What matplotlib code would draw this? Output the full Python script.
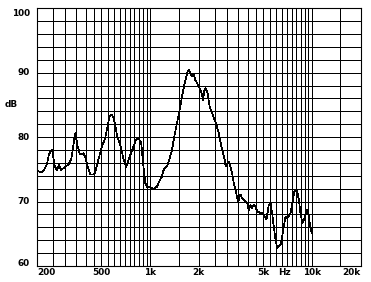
import numpy as np
import matplotlib
matplotlib.use("Agg")
import matplotlib.pyplot as plt

# frequency response
freq_hz = [200, 212, 221, 231, 237, 247, 251, 256, 265, 274, 282, 298, 312, 325, 334,
           344, 349, 357, 369, 387, 396, 412, 426, 446, 457, 479, 503, 527, 553, 561,
           580, 594, 608, 623, 653, 684, 711, 735, 771, 809, 828, 859, 881, 902, 933,
           955, 1002, 1050, 1102, 1127, 1183, 1211, 1271, 1301, 1365, 1410, 1466, 1521,
           1574, 1626, 1675, 1706, 1746, 1771, 1815, 1857, 1901, 1950, 2023, 2094, 2123,
           2163, 2204, 2265, 2333, 2415, 2530, 2653, 2717, 2786, 2878, 2918, 2959, 3061,
           3133, 3212, 3287, 3364, 3411, 3498, 3614, 3706, 3845, 3974, 4066, 4168, 4266,
           4365, 4477, 4582, 4808, 4966, 5105, 5236, 5408, 5546, 5675, 5808, 5957, 6095,
           6237, 6397, 6546, 6699, 6871, 7031, 7195, 7379, 7482, 7621, 7798, 7925, 8110,
           8299, 8492, 8711, 8914, 9122, 9355, 9485, 9662, 9795, 9954]
level_db = [74.8, 74.5, 74.9, 75.9, 77.3, 78.1, 77.3, 75.7, 74.9, 75.7, 74.9, 75.4, 75.7,
            76.5, 78.3, 80.6, 79.9, 78.5, 77.3, 77.5, 77.0, 75.4, 74.2, 74.2, 74.4, 76.5,
            78.5, 79.8, 82.4, 83.2, 83.5, 83.0, 81.9, 80.4, 78.8, 76.7, 75.4, 76.5, 77.8,
            79.3, 79.8, 79.6, 79.1, 76.2, 72.9, 72.3, 72.2, 72.0, 72.3, 72.9, 73.9, 74.9,
            75.5, 76.2, 78.0, 80.1, 82.2, 84.2, 86.3, 88.1, 89.4, 90.2, 90.4, 89.9, 89.4,
            89.7, 88.9, 88.4, 87.6, 86.6, 85.8, 87.3, 87.6, 86.8, 84.7, 83.7, 82.4, 80.7,
            79.3, 78.0, 76.7, 75.7, 75.5, 76.2, 75.4, 74.4, 72.9, 71.8, 71.1, 70.0, 71.1,
            70.5, 70.2, 69.8, 68.7, 69.5, 69.0, 69.5, 69.2, 68.5, 68.2, 68.2, 67.7, 67.2,
            69.5, 69.8, 68.2, 66.1, 64.1, 62.8, 63.0, 63.3, 64.6, 66.1, 67.7, 67.4, 67.7,
            68.2, 69.2, 70.3, 71.6, 71.8, 71.6, 70.3, 68.2, 66.7, 67.2, 68.0, 68.7, 68.2,
            66.9, 65.9, 65.1]

y_ticks = [60, 70, 80, 90, 100]
y_labels = ["60", "70", "80", "90", "100"]
x_ticks = [200, 500, 1000, 2000, 5000, 7000, 10000, 20000]
x_labels = ["200", "500", "1k", "2k", "5k", "Hz", "10k", "20k"]

fig = plt.figure(figsize=(3.71, 2.82), dpi=100)
ax = fig.add_axes([0.0997, 0.0567, 0.8725, 0.914])
ax.set_xscale("log")
ax.set_xlim(200, 20000)
ax.set_ylim(60, 100)

# log paper grid
grid_f = list(np.arange(250, 1000, 50)) + list(np.arange(1000, 10001, 500)) + [15000]
ax.vlines(grid_f, 60, 100, color="black", lw=0.5, antialiased=False)
ax.hlines(np.arange(62, 100, 2), 200, 20000, color="black", lw=0.5, antialiased=False)
for s in ax.spines.values():
    s.set_linewidth(0.8)

ax.plot(freq_hz, level_db, color="black", lw=0.5, antialiased=False)

ax.set_xticks([])
ax.set_yticks([])
ax.minorticks_off()

fnt = dict(fontsize=6.4, fontweight="bold", family="DejaVu Sans")
for v, lab in zip(y_ticks, y_labels):
    dy = 0
    if v == 100:
        dy = -5
    if v == 60:
        dy = 3
    ax.annotate(lab, xy=(0, v), xycoords=("axes fraction", "data"),
                xytext=(-7, dy), textcoords="offset pixels",
                ha="right", va="center", **fnt)
ax.annotate("dB", xy=(0, 85), xycoords=("axes fraction", "data"),
            xytext=(-32, 0), textcoords="offset pixels", ha="left", va="center", **fnt)

for f, lab in zip(x_ticks, x_labels):
    ha = "center"
    dx = 0
    if f == 200:
        ha = "left"
    if f == 20000:
        ha = "right"
    if lab == "Hz":
        dx = -2
    ax.annotate(lab, xy=(f, 0), xycoords=("data", "axes fraction"),
                xytext=(dx, -6), textcoords="offset pixels",
                ha=ha, va="center", **fnt)

fig.savefig("out.png", dpi=100)
